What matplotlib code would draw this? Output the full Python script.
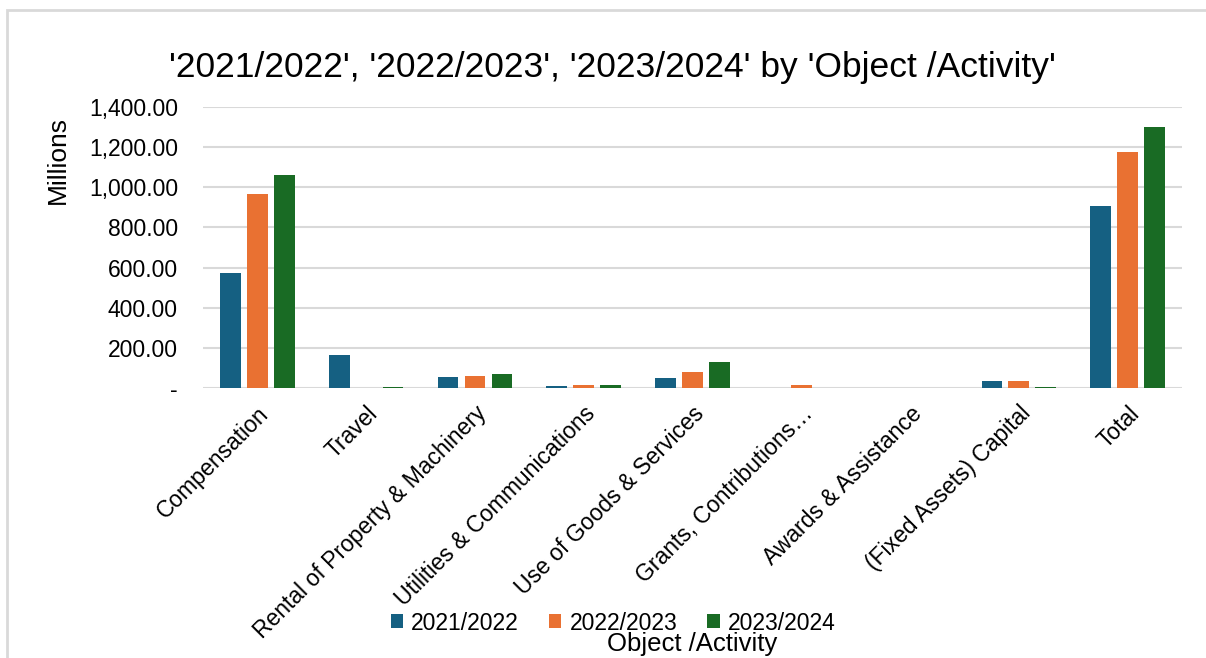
import matplotlib
matplotlib.use("Agg")
import matplotlib.pyplot as plt
import numpy as np
from matplotlib.patches import Rectangle
from matplotlib.ticker import FuncFormatter

plt.rcParams['font.family'] = ['Liberation Sans', 'DejaVu Sans']

categories = ["Compensation", "Travel", "Rental of Property & Machinery",
              "Utilities & Communications", "Use of Goods & Services",
              "Grants, Contributions…", "Awards & Assistance",
              "(Fixed Assets) Capital", "Total"]
series_names = ["2021/2022", "2022/2023", "2023/2024"]
v2122 = [571, 164, 55, 10, 50, 0, 0, 35, 907]
v2223 = [965, 1, 60, 15, 78, 15, 0, 33, 1177]
v2324 = [1061, 5, 70, 14, 130, 0, 0, 5, 1299]
colors = ["#156082", "#E97132", "#196B24"]
yticks = [0, 200, 400, 600, 800, 1000, 1200, 1400]

fig = plt.figure(figsize=(12.06, 6.58), dpi=100)
ax = fig.add_axes([203/1206, 1-388/658, (1182-203)/1206, (388-107)/658])

x = np.arange(len(categories))
step = 0.248
width = 0.19
for i, (vals, name) in enumerate(zip([v2122, v2223, v2324], series_names)):
    ax.bar(x + (i-1)*step, vals, width, color=colors[i], label=name, zorder=3)

ax.set_xlim(-0.5, len(categories)-0.5)
ax.set_ylim(0, 1400)
ax.set_yticks(yticks)
ax.yaxis.set_major_formatter(FuncFormatter(lambda v, p: "-" if v == 0 else f"{v:,.2f}"))
ax.grid(axis='y', color='#d9d9d9', linewidth=1.5, zorder=0)
for s in ax.spines.values():
    s.set_visible(False)
ax.tick_params(axis='both', length=0, labelsize=16.5, colors='black')
ax.tick_params(axis='y', pad=18)
ax.set_xticks(x)
ax.set_xticklabels(categories, rotation=45, ha='right', rotation_mode='anchor', fontsize=16.5)
ax.tick_params(axis='x', pad=10)

fig.text(612/1206, 1-68/658, "'2021/2022', '2022/2023', '2023/2024' by 'Object /Activity'",
         ha='center', va='center', fontsize=25.5)
fig.text(58/1206, 1-160/658, "Millions", rotation=90, ha='center', va='center', fontsize=19)
fig.text(692/1206, 2/658, "Object /Activity", ha='center', va='bottom', fontsize=18.5)

leg = fig.legend(loc='center', bbox_to_anchor=(613/1206, 1-623/658), ncol=3, frameon=False,
                 fontsize=16.5, handlelength=0.55, handleheight=0.55, columnspacing=1.3,
                 handletextpad=0.35)

fig.patches.append(Rectangle((7/1206, -0.1), 1.2, 1-10/658+0.1, transform=fig.transFigure,
                             fill=False, edgecolor='#d9d9d9', linewidth=2, zorder=0))

fig.savefig("out.png", dpi=100)
